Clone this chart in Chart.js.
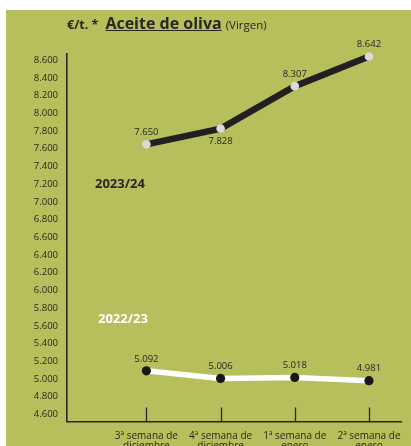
<!DOCTYPE html>
<html lang="es">
<head>
<meta charset="utf-8">
<script src="https://cdn.jsdelivr.net/npm/chart.js@4.4.1/dist/chart.umd.min.js"></script>
<style>
  html, body { margin: 0; padding: 0; background: #ffffff; }
  body { width: 411px; height: 446px; position: relative; overflow: hidden; font-family: "Open Sans", sans-serif; }
  #panel { position: absolute; left: 6px; top: 10px; right: 0; bottom: 0; background: #b6bf5b; }
  #grafico { position: absolute; left: 0; top: 0; }
  #titulo { position: absolute; left: 67px; top: 12px; color: #2a2623; white-space: nowrap; }
  #titulo .unidad { font-weight: 700; font-size: 12.5px; }
  #titulo .nombre { font-weight: 700; font-size: 16px; text-decoration: underline; margin-left: 7px; }
  #titulo .tipo { font-size: 11.5px; margin-left: 4px; }
  .campana { position: absolute; font-weight: 700; font-size: 13px; }
</style>
</head>
<body>
<div id="panel"></div>
<canvas id="grafico" width="411" height="446"></canvas>
<div id="titulo"><span class="unidad">€/t. *</span><span class="nombre">Aceite de oliva</span><span class="tipo">(Virgen)</span></div>
<div class="campana" style="left:95px; top:174px; color:#2a2623;">2023/24</div>
<div class="campana" style="left:98px; top:309px; color:#ffffff;">2022/23</div>

<script>
// Semanas (categorías del eje X)
const semanas = [
    ['3ª semana de', 'diciembre'],
    ['4ª semana de', 'diciembre'],
    ['1ª semana de', 'enero'],
    ['2ª semana de', 'enero']
];

// Precios en €/t.
const campana2324 = [7650, 7828, 8307, 8642];
const campana2223 = [5092, 5006, 5018, 4981];

// Marcas del eje Y
const marcasY = [4600, 4800, 5000, 5200, 5400, 5600, 5800, 6000, 6200, 6400,
                 6600, 6800, 7000, 7200, 7400, 7600, 7800, 8000, 8200, 8400, 8600];

const colorTexto = '#2a2623';

// Formato español: 7650 -> 7.650
function formato(v) {
    return v.toLocaleString('de-DE');
}

// Etiquetas de valor sobre/bajo cada punto
const etiquetasValor = {
    id: 'etiquetasValor',
    afterDatasetsDraw(chart) {
        const ctx = chart.ctx;
        ctx.save();
        ctx.font = '9.5px "Open Sans", sans-serif';
        ctx.fillStyle = colorTexto;
        ctx.textAlign = 'center';
        ctx.textBaseline = 'middle';
        chart.data.datasets.forEach((ds, i) => {
            const meta = chart.getDatasetMeta(i);
            meta.data.forEach((pt, j) => {
                const abajo = ds.posEtiqueta && ds.posEtiqueta[j] === 'abajo';
                ctx.fillText(formato(ds.data[j].y), pt.x, pt.y + (abajo ? 13 : -12));
            });
        });
        ctx.restore();
    }
};

// Pequeñas marcas verticales sobre el eje X
const marcasX = {
    id: 'marcasX',
    afterDraw(chart) {
        const x = chart.scales.x;
        const y = chart.scales.y;
        const ctx = chart.ctx;
        ctx.save();
        ctx.strokeStyle = colorTexto;
        ctx.lineWidth = 1.3;
        semanas.forEach((s, i) => {
            const px = Math.round(x.getPixelForValue(i)) + 0.5;
            ctx.beginPath();
            ctx.moveTo(px, y.bottom);
            ctx.lineTo(px, y.bottom - 14);
            ctx.stroke();
        });
        ctx.restore();
    }
};

const ctx = document.getElementById('grafico').getContext('2d');

new Chart(ctx, {
    type: 'line',
    data: {
        datasets: [
            {
                label: '2023/24',
                data: campana2324.map((v, i) => ({ x: i, y: v })),
                borderColor: '#231f20',
                borderWidth: 6.5,
                pointBackgroundColor: '#d9d9d9',
                pointBorderColor: '#d9d9d9',
                pointRadius: 4.3,
                pointBorderWidth: 0,
                posEtiqueta: ['arriba', 'abajo', 'arriba', 'arriba'],
                clip: false
            },
            {
                label: '2022/23',
                data: campana2223.map((v, i) => ({ x: i, y: v })),
                borderColor: '#ffffff',
                borderWidth: 5.5,
                pointBackgroundColor: '#1a1718',
                pointBorderColor: '#1a1718',
                pointRadius: 4.6,
                pointBorderWidth: 0,
                clip: false
            }
        ]
    },
    options: {
        responsive: false,
        animation: false,
        events: [],
        layout: { padding: { top: 54, right: 5, left: 0, bottom: 0 } },
        plugins: {
            legend: { display: false },
            tooltip: { enabled: false }
        },
        scales: {
            x: {
                type: 'linear',
                min: -1.07,
                max: 3.44,
                afterBuildTicks: axis => {
                    axis.ticks = semanas.map((s, i) => ({ value: i }));
                },
                afterFit: scale => { scale.height = 24.5; },
                grid: { display: false, drawTicks: false },
                border: { display: true, color: colorTexto, width: 1.6 },
                ticks: {
                    autoSkip: false,
                    maxRotation: 0,
                    padding: 10,
                    color: colorTexto,
                    font: { family: '"Open Sans", sans-serif', size: 10, lineHeight: 1.0 },
                    callback: v => semanas[v]
                }
            },
            y: {
                min: 4520,
                max: 8670,
                afterBuildTicks: axis => {
                    axis.ticks = marcasY.map(v => ({ value: v }));
                },
                afterFit: scale => { scale.width = 67; },
                grid: { display: false, drawTicks: false },
                border: { display: true, color: colorTexto, width: 1.6 },
                ticks: {
                    padding: 9,
                    color: colorTexto,
                    font: { family: '"Open Sans", sans-serif', size: 9.5 },
                    callback: v => formato(v)
                }
            }
        }
    },
    plugins: [etiquetasValor, marcasX]
});
</script>
</body>
</html>
